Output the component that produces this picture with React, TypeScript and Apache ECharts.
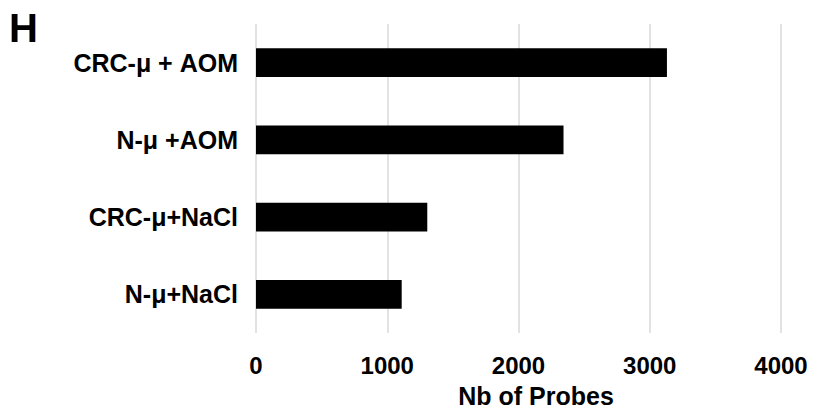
import React, { useEffect, useRef } from "react";
import * as echarts from "echarts";

const categories = ["N-μ+NaCl", "CRC-μ+NaCl", "N-μ +AOM", "CRC-μ + AOM"];
const probes = [1110, 1305, 2343, 3131];
const xTicks = { min: 0, max: 4000, interval: 1000 };
const panelLabel = "H";
const xTitle = "Nb of Probes";

export default function App() {
  const ref = useRef<HTMLDivElement>(null);
  useEffect(() => {
    if (!ref.current) return;
    const chart = echarts.init(ref.current, null, { renderer: "svg" });
    const font = "'Liberation Sans', Arial, sans-serif";
    chart.setOption({
      animation: false,
      backgroundColor: "#ffffff",
      grid: { left: 256, right: 45, top: 24, bottom: 78, containLabel: false },
      xAxis: {
        type: "value",
        min: xTicks.min,
        max: xTicks.max,
        interval: xTicks.interval,
        axisLine: { show: false },
        axisTick: { show: false },
        splitLine: { show: true, lineStyle: { color: "#d9d9d9", width: 1.5 } },
        axisLabel: {
          color: "#000",
          fontFamily: font,
          fontWeight: "bold",
          fontSize: 24,
          margin: 20,
          formatter: (v: number) => String(v),
        },
      },
      yAxis: {
        type: "category",
        data: categories,
        axisLine: { show: false },
        axisTick: { show: false },
        axisLabel: {
          color: "#000",
          fontFamily: font,
          fontWeight: "bold",
          fontSize: 25,
          margin: 18,
        },
      },
      series: [
        {
          type: "bar",
          data: probes,
          barCategoryGap: "63%",
          itemStyle: { color: "#000000" },
        },
      ],
      graphic: [
        {
          type: "text",
          left: 9,
          top: 8,
          style: {
            text: panelLabel,
            fontFamily: font,
            fontWeight: "bold",
            fontSize: 40,
            fill: "#000",
          },
        },
        {
          type: "text",
          x: 536,
          y: 396,
          style: {
            text: xTitle,
            fontFamily: font,
            fontWeight: "bold",
            fontSize: 25,
            fill: "#000",
            align: "center",
            verticalAlign: "middle",
          },
        },
      ],
    });
    return () => chart.dispose();
  }, []);
  return <div ref={ref} style={{ width: 826, height: 411, position: "absolute", left: 0, top: 0 }} />;
}
